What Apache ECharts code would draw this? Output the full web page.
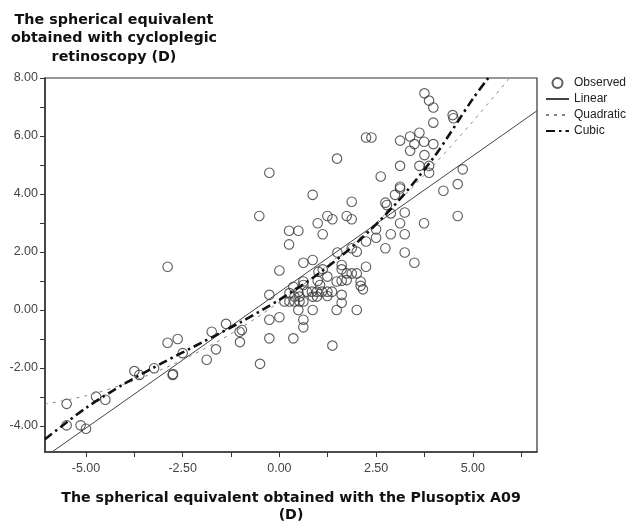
<!DOCTYPE html>
<html>
<head>
<meta charset="utf-8">
<script src="https://cdn.jsdelivr.net/npm/echarts@6/dist/echarts.min.js"></script>
<style>
html,body{margin:0;padding:0;background:#fff;}
#chart{width:629px;height:524px;}
</style>
</head>
<body>
<div id="chart"></div>
<script>
// ---- Data ----
const xTitle = "The spherical equivalent obtained with the Plusoptix A09\n(D)";
const yTitle = "The spherical equivalent\nobtained with cycloplegic\nretinoscopy (D)";
const legendNames = ["Observed", "Linear", "Quadratic", "Cubic"];

const xRange = [-6.06, 6.66];
const yRange = [-4.9, 8];
const xTickValues = [-5, -3.75, -2.5, -1.25, 0, 1.25, 2.5, 3.75, 5, 6.25];
const xLabelValues = [-5, -2.5, 0, 2.5, 5];
const yTickValues = [-4, -3, -2, -1, 0, 1, 2, 3, 4, 5, 6, 7, 8];
const yLabelValues = [-4, -2, 0, 2, 4, 6, 8];

// Observed points [Plusoptix, retinoscopy]
const observed = [
  [-5.50,-3.24],[-5.50,-3.98],[-5.14,-3.98],[-5.00,-4.10],[-4.74,-2.99],[-4.50,-3.10],
  [-3.75,-2.11],[-3.62,-2.24],[-3.24,-2.01],[-2.89,-1.13],[-2.63,-1.00],[-2.50,-1.49],
  [-2.76,-2.24],[-2.75,-2.21],[-1.88,-1.72],[-1.75,-0.75],[-1.64,-1.36],[-1.38,-0.48],
  [-1.03,-0.75],[-1.02,-1.11],[-2.89,1.49],[-0.52,3.24],[-0.26,4.73],[-0.50,-1.86],
  [-0.26,0.52],[-0.26,-0.34],[0.00,-0.25],[-0.26,-0.98],[0.36,-0.98],[1.37,-1.23],
  [0.62,-0.34],[0.62,-0.60],[0.86,0.00],[0.49,0.00],[1.48,0.00],[2.00,0.00],
  [1.61,0.52],[1.61,0.25],[0.00,1.36],[0.62,1.63],[0.86,1.72],[1.50,1.98],
  [2.24,1.49],[2.00,2.01],[1.87,2.13],[2.24,2.36],[2.50,2.49],[2.50,2.78],
  [0.25,2.73],[0.49,2.73],[0.25,2.26],[0.99,2.99],[1.12,2.61],[0.86,3.97],
  [1.24,3.24],[1.37,3.13],[1.74,3.24],[1.87,3.13],[1.87,3.73],[1.49,5.22],
  [2.24,5.95],[2.38,5.95],[2.62,4.60],[2.74,3.70],[2.78,3.62],[2.88,3.33],
  [2.99,3.97],[3.12,4.25],[3.12,4.19],[3.24,3.36],[3.12,2.99],[3.74,2.99],
  [3.24,2.61],[2.88,2.61],[2.74,2.13],[3.24,1.98],[3.49,1.63],[3.12,4.97],
  [3.62,4.97],[3.87,4.97],[3.87,4.73],[4.74,4.85],[4.61,4.34],[4.24,4.11],
  [4.61,3.24],[3.12,5.84],[3.38,5.98],[3.62,6.11],[3.49,5.72],[3.74,5.80],
  [3.98,5.72],[3.38,5.49],[3.75,5.34],[3.75,7.47],[3.87,7.22],[3.98,6.98],
  [3.98,6.46],[4.48,6.72],[4.50,6.61],[-0.97,-0.69],
  [1.12,1.40],[1.24,1.15],[1.01,1.32],[1.61,1.55],[1.61,1.40],[1.74,1.26],
  [1.87,1.26],[2.00,1.26],[1.61,1.01],[1.48,0.98],[1.74,1.03],[2.10,0.98],
  [2.10,0.83],[2.16,0.71],[0.62,0.98],[0.62,0.86],[0.99,1.01],[1.05,0.86],
  [0.36,0.80],[0.49,0.63],[0.71,0.63],[0.84,0.63],[0.97,0.63],[1.10,0.63],
  [1.24,0.63],[1.36,0.63],[0.26,0.58],[0.39,0.46],[0.52,0.46],[0.13,0.29],
  [0.26,0.29],[0.39,0.29],[0.52,0.29],[0.62,0.29],[0.86,0.46],[0.97,0.46],
  [1.24,0.48]
];

// Fitted curves, points
const linearLine = [[-5.88,-4.90],[6.66,6.87]];
const quadraticLine = [
  [-6.06,-3.25],[-5,-2.96],[-4,-2.55],[-3,-2.03],[-2,-1.38],[-1,-0.62],[0,0.27],
  [1,1.27],[2,2.40],[3,3.64],[4,5.01],[5,6.50],[5.95,8.00]
];
const cubicLine = [
  [-6.06,-4.46],[-5,-3.38],[-4,-2.54],[-3,-1.81],[-2,-1.12],[-1,-0.42],[0,0.35],
  [1,1.24],[2,2.32],[3,3.65],[4,5.28],[5,7.28],[5.40,8.00]
];

const FONT = "Liberation Sans, Arial, sans-serif";
const TFONT = "DejaVu Sans, sans-serif";
const hiddenSym = {color: 'rgba(0,0,0,0)', borderColor: 'rgba(0,0,0,0)', borderWidth: 0};
const chart = echarts.init(document.getElementById('chart'), null, {renderer: 'canvas'});

chart.setOption({
  animation: false,
  backgroundColor: '#fff',
  grid: {left: 45, right: 92, top: 78, bottom: 72, show: true, borderColor: '#333', borderWidth: 1.2, backgroundColor: 'transparent'},
  graphic: [
    {type: 'text', x: 114, y: 11, style: {text: yTitle, align: 'center', verticalAlign: 'top', font: 'bold 14.3px ' + TFONT, lineHeight: 18.5, fill: '#111'}},
    {type: 'text', x: 291, y: 490, style: {text: xTitle, align: 'center', verticalAlign: 'top', font: 'bold 14.2px ' + TFONT, lineHeight: 17, fill: '#111'}}
  ],
  legend: {
    orient: 'vertical', left: 545, top: 77, padding: 0, itemWidth: 23, itemHeight: 10, itemGap: 4,
    textStyle: {fontFamily: FONT, fontSize: 12, color: '#222', padding: [0, 0, 0, 0]},
    data: [
      {name: legendNames[0], icon: 'circle'},
      {name: legendNames[1], itemStyle: hiddenSym},
      {name: legendNames[2], itemStyle: hiddenSym},
      {name: legendNames[3], itemStyle: hiddenSym}
    ]
  },
  xAxis: {
    type: 'value', min: xRange[0], max: xRange[1],
    axisLine: {show: true, onZero: false, lineStyle: {color: '#333', width: 1.5}},
    axisTick: {show: true, length: 5, customValues: xTickValues, lineStyle: {color: '#333'}},
    axisLabel: {customValues: xLabelValues, formatter: v => v.toFixed(2), fontFamily: FONT, fontSize: 12.5, color: '#444', margin: 10},
    splitLine: {show: false}
  },
  yAxis: {
    type: 'value', min: yRange[0], max: yRange[1],
    axisLine: {show: true, onZero: false, lineStyle: {color: '#333', width: 1.5}},
    axisTick: {show: true, length: 5, customValues: yTickValues, lineStyle: {color: '#333'}},
    axisLabel: {customValues: yLabelValues, formatter: v => v.toFixed(2), fontFamily: FONT, fontSize: 12.5, color: '#444', margin: 7},
    splitLine: {show: false}
  },
  series: [
    {name: legendNames[0], type: 'scatter', data: observed, symbol: 'circle', symbolSize: 9.5,
     itemStyle: {color: 'rgba(0,0,0,0)', borderColor: '#333', borderWidth: 1.1}},
    {name: legendNames[1], type: 'line', data: linearLine, symbol: 'none', showSymbol: false,
     lineStyle: {color: '#444', width: 1, type: 'solid'}, itemStyle: {color: '#444'}},
    {name: legendNames[2], type: 'line', data: quadraticLine, symbol: 'none', showSymbol: false, smooth: 0.3,
     lineStyle: {color: '#888', width: 1, type: [3, 5]}, itemStyle: {color: '#888'}},
    {name: legendNames[3], type: 'line', data: cubicLine, symbol: 'none', showSymbol: false, smooth: 0.3,
     lineStyle: {color: '#111', width: 2.6, type: [9, 4, 2.5, 4]}, itemStyle: {color: '#111'}}
  ]
});
</script>
</body>
</html>
